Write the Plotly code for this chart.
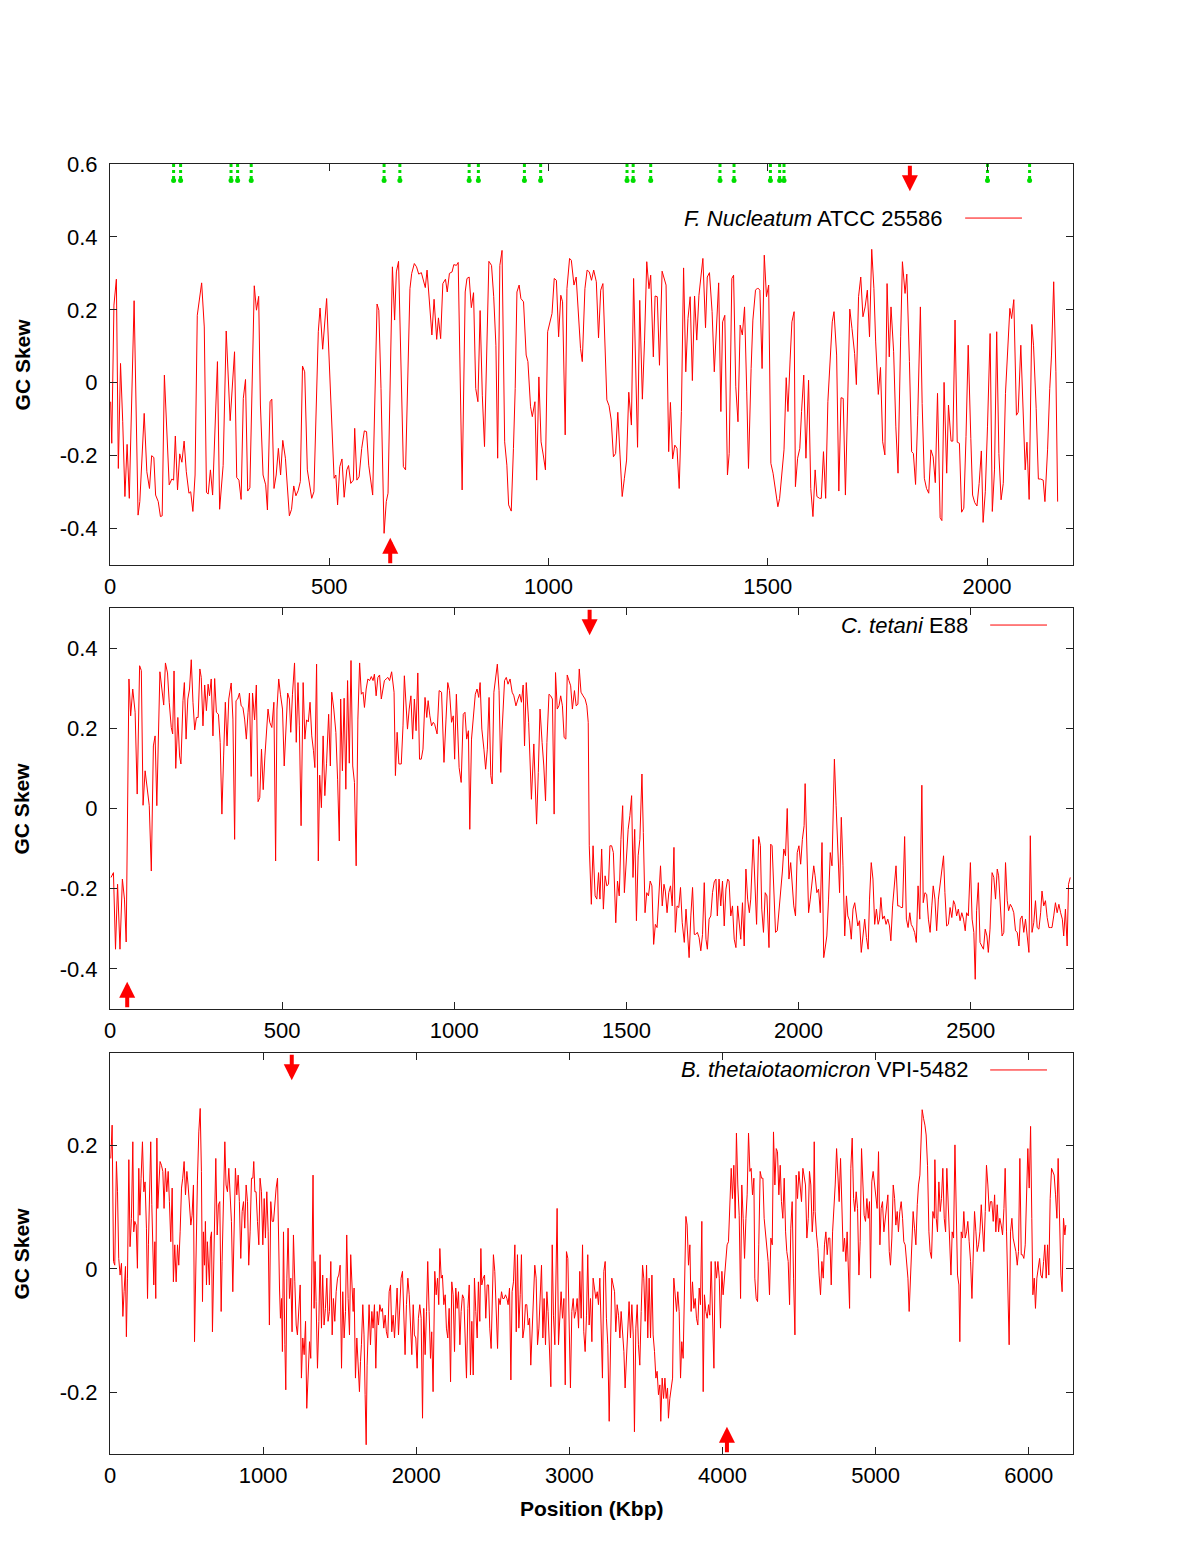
import plotly.graph_objects as go

# ---------------- F. nucleatum ATCC 25586 ----------------
fn_pos_a = [1.5,4,9,14.5,19,24,29,34,39,44,55,64,68,78,84,90,95,100,104,110,115,119,124,129,135,141,145,149,154,159,164,169,174,180,184,189,194,199,209,215,220,224,229,234,245,250,258,265,274,284,289,294,299,304,309,314,319,329,334,339,343,349,355,359,365,369,374,379,384,389,394,400,409,414,419,424,429,434,439,444,450,460,465,475,479,485,494,504,511,515,519,524,529,534,540,544,549,555]
fn_skew_a = [-0.052,-0.166,0.213,0.284,-0.235,0.053,-0.107,-0.312,-0.169,-0.317,0.225,-0.363,-0.326,-0.084,-0.244,-0.29,-0.20,-0.205,-0.308,-0.326,-0.367,-0.365,0.021,-0.107,-0.28,-0.264,-0.267,-0.146,-0.294,-0.195,-0.218,-0.16,-0.244,-0.303,-0.299,-0.353,-0.253,0.185,0.274,0.153,-0.301,-0.305,-0.239,-0.308,0.058,-0.347,-0.227,0.142,-0.104,0.085,-0.26,-0.267,-0.32,-0.043,0.009,-0.297,-0.288,0.266,0.199,0.237,-0.061,-0.253,-0.28,-0.349,-0.052,-0.045,-0.29,-0.253,-0.18,-0.253,-0.158,-0.207,-0.365,-0.347,-0.283,-0.31,-0.296,-0.271,0.046,0.03,-0.239,-0.317,-0.299,0.14,0.205,0.092,0.231,-0.061,-0.262,-0.253,-0.335,-0.23,-0.209,-0.314,-0.239,-0.227,-0.276,-0.267]
fn_pos_b = [558,563,568,574,580,585,590,599,604,609,613,618,625,630,634,639,644,649,653,658,663,669,674,679,684,688,694,699,704,710,714,719,723,729,734,739,745,749,754,759,765,769,774,780,784,790,794,803,810,814,819,824,829,834,839,844,849,854,859,864,870,875,880,884,889,894,900,905,909,915,920,924,928,933,937,943,949,953,959,963,969,973,978,983,988,993,998,1004,1008,1013,1018,1023,1028,1032,1038,1042,1048,1052,1058,1063,1067,1073,1077,1083,1088,1093,1098,1103]
fn_skew_b = [-0.125,-0.267,-0.258,-0.18,-0.132,-0.134,-0.226,-0.308,-0.052,0.216,0.199,-0.016,-0.413,-0.326,-0.303,-0.016,0.318,0.172,0.304,0.333,0.039,-0.23,-0.239,0.021,0.258,0.30,0.327,0.318,0.298,0.302,0.286,0.261,0.309,0.222,0.131,0.229,0.119,0.178,0.121,0.272,0.284,0.249,0.30,0.304,0.324,0.322,0.33,-0.294,0.249,0.286,0.29,0.206,0.247,-0.016,-0.052,0.198,-0.034,-0.175,0.076,0.333,0.322,0.236,0.103,-0.207,0.322,0.363,-0.162,-0.226,-0.335,-0.352,-0.18,-0.016,0.249,0.268,0.231,0.222,0.076,0.058,-0.066,-0.093,-0.052,-0.267,0.016,-0.162,-0.198,-0.239,0.14,0.167,0.19,0.286,0.281,0.126,0.24,0.222,-0.143,0.258,0.341,0.336,0.268,0.29,0.222,0.094,0.058,0.258,0.309,0.304,0.281,0.309]
fn_pos_c = [1109,1114,1119,1124,1133,1138,1143,1148,1153,1158,1163,1168,1173,1178,1183,1189,1194,1198,1203,1208,1214,1219,1224,1229,1233,1239,1243,1248,1253,1259,1263,1268,1274,1278,1283,1288,1293,1298,1303,1308,1313,1318,1323,1328,1333,1338,1343,1348,1352,1358,1362,1367,1373,1378,1383,1388,1393,1397,1402,1408,1412,1418,1422,1427,1432,1437,1442,1447,1452,1456,1462,1466,1472,1477,1482,1487,1492,1497,1502,1507,1512,1517,1523,1527,1532,1537,1542,1546,1551,1555,1560,1563,1568,1573,1577,1582,1587,1593,1598,1603,1608,1612,1618,1622,1627,1632,1637,1642,1647,1651]
fn_skew_c = [0.277,0.123,0.254,0.272,-0.047,-0.063,-0.102,-0.203,-0.194,-0.081,-0.198,-0.312,-0.262,-0.212,-0.026,-0.116,0.286,0.076,-0.177,0.226,-0.045,0.117,0.332,0.258,0.295,0.071,0.238,0.236,0.048,0.306,0.29,0.268,-0.189,-0.054,-0.209,-0.171,-0.18,-0.29,-0.079,0.315,0.03,0.176,0.236,0.006,0.238,0.117,0.24,0.309,0.341,0.151,0.29,0.302,0.195,0.03,0.149,0.274,-0.079,0.167,0.185,-0.253,-0.194,0.286,0.295,-0.011,-0.107,0.158,0.131,0.208,-0.025,-0.235,0.039,0.172,0.254,0.26,0.254,0.039,0.35,0.236,0.268,-0.221,-0.248,-0.29,-0.34,-0.317,-0.244,-0.184,0.014,-0.079,0.065,0.167,0.195,-0.285,-0.207,-0.18,-0.079,0.021,-0.207,0.007,-0.29,-0.367,-0.239,-0.312,-0.317,-0.317,-0.189,-0.317,-0.052,0.058,0.167,0.195]
fn_pos_d = [1657,1662,1667,1672,1677,1682,1687,1692,1698,1702,1707,1712,1717,1722,1727,1732,1737,1742,1746,1752,1757,1762,1767,1772,1777,1781,1787,1792,1797,1803,1807,1813,1817,1823,1828,1832,1837,1842,1848,1852,1857,1862,1867,1872,1877,1882,1887,1893,1897,1902,1908,1912,1918,1922,1927,1932,1937,1942,1947,1952,1957,1963,1967,1972,1977,1982,1987,1991,1996,2001,2007,2012,2017,2022,2027,2032,2037,2042,2047,2052,2056,2061,2067,2071,2077,2081,2087,2091,2096,2102,2106,2112,2117,2122,2128,2132,2138,2143,2147,2152,2157,2161]
fn_skew_d = [0.076,-0.297,-0.041,-0.043,-0.308,-0.061,0.202,0.149,0.08,-0.005,0.236,0.29,0.181,0.208,0.254,0.126,0.366,0.258,0.112,-0.032,0.042,-0.162,-0.198,0.272,0.071,0.208,0.085,-0.121,-0.248,0.126,0.332,0.245,0.298,0.058,-0.189,-0.194,-0.279,-0.089,0.208,-0.057,-0.262,-0.29,-0.303,-0.184,-0.203,-0.274,-0.029,-0.37,-0.378,0.001,-0.248,-0.061,-0.16,-0.16,0.172,-0.163,-0.166,-0.355,-0.344,-0.148,0.103,-0.153,-0.308,-0.329,-0.338,-0.276,-0.187,-0.383,-0.299,-0.121,0.135,-0.353,-0.239,0.14,-0.194,-0.321,-0.276,-0.029,0.099,0.204,0.176,0.228,-0.089,-0.081,0.103,-0.061,-0.239,-0.163,-0.32,0.16,0.103,-0.07,-0.264,-0.264,-0.267,-0.326,-0.184,-0.016,0.076,0.277,0.03,-0.326]
fn_markers = [145,161,276,291,322,625,661,819,840,945,982,1179,1193,1233,1391,1423,1506,1527,1537,2001,2097]
fn_ori, fn_ter = 639, 1824

# ---------------- C. tetani E88 ----------------
ct_pos_a = [3,10,16,22,29,36,42,47,55,60,66,73,79,86,91,96,102,108,114,120,126,131,136,145,150,156,161,167,172,178,182,186,191,197,202,206,212,216,221,226,231,236,241,246,251,256,261,265,270,275,280,285,289,294,299,304,309,315,320,325,330,335,340,345,352,357,362,366,371,376,381,386,391,396,401,405,410,414,420,425,430,435,440,445,450,454,459,464,470,476,481,485,490,495,501,506,511,516,521,525,530,536,541,546,550,555,561,566,571,576,581,586,591,595,600,605,609,614,619,624,629,635,640,644,650,656,661,666,670,675,680,685,690,695,700,705,710,715,720,725,730,735,739,744,749,754,759,764,768,773,778,783,788,793,797,802,807,812,818,825,829,834,839,846,851,855,860,864,869,874,879,884,889,894,899,904,909,915,920,924,929,934,939]
ct_skew_a = [-0.172,-0.16,-0.351,-0.189,-0.351,-0.176,-0.226,-0.333,0.323,0.231,0.298,0.24,0.036,0.356,0.344,0.008,0.094,0.057,0.007,-0.156,0.156,0.181,0.007,0.341,0.298,0.258,0.363,0.338,0.265,0.202,0.186,0.343,0.10,0.227,0.131,0.111,0.269,0.314,0.173,0.273,0.298,0.371,0.265,0.196,0.227,0.227,0.348,0.327,0.206,0.308,0.244,0.31,0.281,0.323,0.181,0.324,0.24,0.235,0.165,-0.014,0.131,0.265,0.156,0.273,0.313,0.223,-0.077,0.269,0.273,0.288,0.256,0.252,0.223,0.173,0.24,0.288,0.08,0.288,0.221,0.308,0.017,0.027,0.148,0.047,0.131,0.19,0.248,0.215,0.202,0.265,-0.131,0.248,0.323,0.285,0.248,0.106,0.206,0.288,0.273,0.19,0.285,0.363,0.165,0.314,0.206,-0.043,0.314,0.173,0.221,0.216,0.265,0.181,0.144,0.102,0.36,-0.131,0.083,0.002,0.181,0.032,0.113,0.235,0.106,0.29,0.248,0.19,0.073,-0.081,0.273,0.094,0.275,0.048,0.319,0.113,0.369,0.106,0.065,-0.143,0.223,0.363,0.285,0.29,0.252,0.298,0.323,0.319,0.329,0.319,0.335,0.281,0.327,0.333,0.273,0.294,0.319,0.323,0.327,0.319,0.341,0.29,0.082,0.19,0.111,0.111,0.206,0.331,0.24,0.198,0.248,0.281,0.173,0.273,0.194,0.338,0.123,0.123,0.148,0.277,0.227,0.269,0.231,0.206,0.215]
ct_pos_b = [943,950,956,963,970,976,981,986,992,997,1001,1006,1011,1014,1020,1026,1031,1036,1041,1045,1050,1055,1061,1066,1071,1075,1080,1086,1091,1096,1101,1106,1110,1115,1120,1125,1130,1135,1139,1146,1151,1156,1162,1168,1173,1179,1185,1190,1195,1200,1204,1209,1216,1224,1231,1239,1244,1249,1255,1260,1265,1269,1275,1280,1285,1290,1294,1299,1304,1309,1314,1319,1324,1328,1333,1338,1343,1349,1354,1359,1363,1368,1374,1380,1385,1389,1392,1398,1403,1409,1414,1419,1423,1428,1433,1438,1443,1448,1452,1457,1462,1469,1474,1479,1484,1489,1494,1499,1505,1510,1515,1519,1524,1529,1534,1539,1545,1549,1554,1559,1564,1569,1574,1579,1584,1589,1594,1599,1604,1609,1613,1618,1623,1628,1633,1638,1642,1647,1652,1657,1662,1668,1673,1677,1682,1687,1692,1697,1701,1706,1711,1716,1721,1726,1731,1735,1740,1745,1750,1755,1760,1764,1769,1774,1779,1784,1789,1794,1798,1803,1808,1813,1818,1823,1828,1832,1837,1842,1847,1852,1857,1861,1868]
ct_skew_b = [0.21,0.186,0.294,0.29,0.115,0.223,0.314,0.294,0.215,0.231,0.123,0.285,0.136,0.102,0.065,0.235,0.24,0.173,0.194,-0.052,0.173,0.231,0.285,0.298,0.277,0.314,0.198,0.148,0.098,0.148,0.277,0.082,0.061,0.29,0.323,0.36,0.294,0.09,0.198,0.319,0.327,0.31,0.323,0.29,0.281,0.256,0.273,0.285,0.265,0.308,0.156,0.314,0.215,0.023,0.161,-0.039,0.09,0.248,0.165,0.106,0.019,0.165,0.285,0.281,0.273,-0.014,0.339,0.248,0.256,0.281,0.256,0.177,0.173,0.333,0.319,0.306,0.248,0.294,0.256,0.26,0.348,0.29,0.281,0.273,0.256,0.215,-0.093,-0.239,-0.093,-0.218,-0.226,-0.16,-0.226,-0.101,-0.251,-0.168,-0.193,-0.189,-0.093,-0.093,-0.11,-0.285,-0.181,-0.218,-0.077,0.007,-0.21,-0.135,-0.052,-0.018,0.032,-0.172,-0.052,-0.28,-0.118,-0.077,0.086,-0.06,-0.26,-0.21,-0.218,-0.181,-0.193,-0.339,-0.289,-0.297,-0.226,-0.143,-0.243,-0.189,-0.206,-0.26,-0.21,-0.193,-0.243,-0.097,-0.309,-0.243,-0.247,-0.197,-0.285,-0.334,-0.251,-0.314,-0.372,-0.268,-0.197,-0.314,-0.314,-0.309,-0.322,-0.355,-0.314,-0.185,-0.326,-0.351,-0.276,-0.268,-0.21,-0.183,-0.176,-0.268,-0.176,-0.243,-0.181,-0.293,-0.201,-0.176,-0.181,-0.268,-0.243,-0.326,-0.347,-0.243,-0.285,-0.326,-0.235,-0.343,-0.151,-0.226,-0.26,-0.226,-0.077]
ct_pos_c = [1878,1884,1889,1893,1898,1903,1908,1914,1919,1923,1928,1933,1938,1943,1948,1953,1957,1962,1967,1972,1977,1982,1986,1991,1996,2001,2006,2011,2016,2019,2024,2029,2034,2039,2044,2048,2053,2058,2063,2068,2073,2078,2082,2087,2092,2097,2104,2109,2113,2119,2124,2129,2134,2139,2143,2148,2153,2158,2163,2168,2172,2177,2182,2187,2192,2197,2202,2206,2211,2216,2221,2226,2231,2235,2239,2244,2249,2254,2259,2264,2268,2273,2278,2283,2288,2293,2297,2302,2308,2313,2318,2323,2327,2332,2337,2342,2347,2352,2358,2362,2367,2372,2377,2382,2387,2391,2396,2401,2406,2411,2416,2421,2425,2430,2435,2440,2445,2450,2454,2459,2464,2469,2474,2479,2484,2488,2493,2499,2504,2509,2513,2517,2522,2527,2532,2537,2542,2547,2551,2556,2562,2567,2572,2577,2581,2586,2591,2596,2601,2606,2610,2615,2620,2625,2630,2635,2640,2644,2649,2654,2659,2664,2669,2673,2678,2683,2688,2693,2698,2703,2707,2712,2717,2722,2727,2732,2736,2741,2746,2751,2756,2761,2766,2770,2775,2780,2784,2789]
ct_skew_c = [-0.289,-0.07,-0.093,-0.251,-0.309,-0.21,-0.218,-0.347,-0.089,-0.093,-0.21,-0.309,-0.305,-0.26,-0.218,-0.156,-0.101,-0.118,0.0,-0.176,-0.135,-0.193,-0.243,-0.268,-0.11,-0.093,-0.139,-0.077,-0.043,0.062,-0.101,-0.26,-0.226,-0.189,-0.143,-0.168,-0.21,-0.201,-0.26,-0.085,-0.372,-0.343,-0.318,-0.226,-0.11,-0.143,0.123,0.007,-0.077,-0.21,-0.022,-0.143,-0.318,-0.218,-0.268,-0.28,-0.326,-0.251,-0.235,-0.268,-0.293,-0.28,-0.359,-0.318,-0.276,-0.322,-0.351,-0.226,-0.135,-0.176,-0.289,-0.251,-0.289,-0.276,-0.222,-0.276,-0.268,-0.289,-0.276,-0.293,-0.33,-0.243,-0.193,-0.143,-0.243,-0.243,-0.247,-0.247,-0.07,-0.276,-0.297,-0.26,-0.289,-0.297,-0.309,-0.334,-0.193,-0.276,0.058,-0.235,-0.21,-0.214,-0.276,-0.309,-0.243,-0.193,-0.226,-0.305,-0.226,-0.185,-0.143,-0.118,-0.21,-0.293,-0.289,-0.247,-0.272,-0.23,-0.239,-0.268,-0.251,-0.28,-0.26,-0.276,-0.305,-0.26,-0.268,-0.135,-0.276,-0.309,-0.426,-0.255,-0.185,-0.334,-0.343,-0.351,-0.301,-0.318,-0.359,-0.301,-0.16,-0.172,-0.226,-0.151,-0.168,-0.26,-0.318,-0.309,-0.135,-0.23,-0.255,-0.239,-0.247,-0.26,-0.305,-0.309,-0.343,-0.276,-0.268,-0.309,-0.276,-0.318,-0.359,-0.068,-0.309,-0.285,-0.23,-0.297,-0.301,-0.26,-0.206,-0.243,-0.23,-0.272,-0.297,-0.297,-0.297,-0.268,-0.235,-0.26,-0.239,-0.26,-0.276,-0.318,-0.251,-0.343,-0.189,-0.172]
ct_ori, ct_ter = 50, 1393

# ---------------- B. thetaiotaomicron VPI-5482 ----------------
bt_pos_a = [5,14,23,31,42,49,57,66,75,84,92,101,107,114,123,131,140,149,155,162,171,179,188,195,203,212,221,229,238,245,251,258,266,273,279,286,293,299,306,312,319,327,336,345,353,362,371,380,388,397,406,414,423,432,441,449,458,467,475,484,493,502,510,519,528,536,545,552,558,565,571,580,589,597,604,610,617,623,630,636,643,649,656,663,669,676,682,691,700,708,717,726,732,741,750,758,767,776,784,793,802,811,819,828,837,845,854,863,872,880,889,898,906,915,924,933,939,946,954,963,972,980,989,998,1007,1015,1024,1033,1041,1050,1059,1068,1076,1085,1094,1100,1107,1113,1120,1126,1133,1142,1148,1155,1163,1172,1181,1189,1198,1207,1216,1224,1233,1242,1250,1259,1268,1277,1285,1294,1303,1311,1320,1326,1333,1339,1346,1355,1364,1372,1381,1389,1398,1407,1416,1424,1433,1442,1451,1459,1468,1477,1486,1494,1503,1512,1520,1529,1538,1546,1555,1564,1572,1581,1588,1594,1603,1612,1620,1629,1636,1642,1651,1659,1666,1673,1679,1686,1692,1701,1710,1718,1727,1736,1745,1753,1762,1771,1779,1788,1797,1805,1814,1823,1832,1840,1849,1858,1866,1875,1884,1893,1901,1910,1919,1927,1936,1945,1954,1962,1971,1980,1988,1997,2006,2014,2023,2032,2041,2049,2058,2067,2075,2084,2093,2101,2110]
bt_skew_a = [0.179,0.233,0.012,0.006,0.174,0.125,0.017,-0.01,0.009,-0.077,-0.037,0.004,-0.11,-0.015,0.177,0.036,0.082,0.206,0.06,0.077,0.071,0.001,0.163,0.087,0.147,0.206,0.125,0.141,0.066,-0.048,0.039,0.136,0.206,0.104,0.017,-0.026,0.044,-0.048,0.212,0.098,0.136,0.174,0.168,0.158,0.098,0.163,0.125,0.158,0.109,0.044,0.131,-0.021,0.039,-0.021,0.039,0.006,0.06,0.131,0.147,0.174,0.12,0.158,0.136,0.104,0.071,0.087,0.136,-0.118,-0.015,0.104,0.144,0.222,0.26,0.158,-0.053,0.06,0.006,0.077,-0.026,0.044,0.006,-0.026,0.05,0.06,-0.102,-0.01,0.06,0.179,0.055,0.104,0.109,-0.069,0.012,0.109,0.206,0.136,0.125,0.163,0.125,0.077,-0.037,0.109,0.163,0.12,0.152,0.109,0.017,0.093,0.109,0.066,0.136,0.109,0.006,0.06,0.147,0.147,0.174,0.125,0.125,0.077,0.039,0.147,0.125,0.039,0.114,0.05,0.125,0.06,-0.091,0.109,0.077,0.077,0.104,0.131,0.147,0.023,-0.031,-0.08,-0.048,-0.134,0.06,-0.123,-0.196,-0.015,0.066,-0.048,-0.015,-0.102,0.055,-0.021,-0.091,-0.107,-0.075,-0.026,-0.177,-0.112,-0.139,-0.085,-0.226,-0.172,-0.118,-0.145,0.012,0.152,-0.064,0.012,-0.053,-0.161,-0.085,0.023,-0.096,-0.01,-0.091,-0.064,-0.015,-0.085,-0.069,0.012,-0.107,-0.048,-0.085,-0.037,-0.015,-0.01,0.006,-0.161,-0.037,-0.112,-0.069,0.055,-0.048,-0.107,0.023,-0.026,-0.069,-0.031,-0.177,-0.112,-0.145,-0.199,-0.15,-0.123,-0.058,-0.107,-0.204,-0.285,-0.156,-0.091,-0.058,-0.123,-0.069,-0.096,-0.058,-0.161,-0.069,-0.091,-0.058,-0.069,-0.064,-0.096,-0.075,-0.102,-0.112,-0.037,-0.026,-0.102,-0.075,-0.112,-0.075,-0.031,-0.107,-0.058,-0.015,-0.004,-0.085,-0.139,-0.058,-0.015,-0.042,-0.091,-0.139,-0.058,-0.107,-0.112,-0.161,-0.08,-0.058,-0.08,-0.242,-0.064,-0.139,-0.069,0.012,-0.069,-0.145,-0.102,-0.199]
bt_pos_b = [2121,2130,2139,2147,2154,2163,2171,2180,2189,2197,2206,2215,2224,2232,2241,2250,2258,2267,2276,2285,2293,2302,2311,2319,2328,2337,2346,2354,2363,2372,2380,2389,2398,2406,2415,2422,2428,2437,2446,2454,2463,2472,2480,2489,2498,2504,2513,2522,2531,2539,2548,2557,2565,2574,2583,2592,2600,2609,2618,2626,2635,2644,2653,2661,2670,2679,2687,2696,2705,2713,2722,2731,2740,2748,2757,2766,2774,2783,2792,2801,2809,2818,2827,2835,2844,2853,2861,2870,2879,2888,2896,2905,2912,2920,2929,2938,2946,2955,2964,2973,2981,2990,2999,3007,3016,3025,3033,3042,3051,3060,3068,3077,3086,3094,3103,3112,3120,3129,3138,3147,3155,3164,3173,3182,3190,3199,3208,3216,3225,3234,3242,3251,3260,3269,3277,3286,3295,3303,3312,3321,3330,3338,3347,3356,3364,3373,3382,3390,3399,3408,3417,3425,3434,3443,3451,3460,3469,3478,3486,3495,3504,3512,3521,3530,3539,3547,3556,3565,3573,3582,3591,3597,3606,3615,3624,3632,3641,3647,3656,3665,3674,3682,3691,3700,3708,3717,3726,3734,3743,3752,3761,3769,3778,3787,3795,3804,3813,3822,3830,3839,3848,3856,3865,3874,3882,3891,3900,3909,3917,3926,3935,3944,3952,3961,3970,3979,3987,3996,4004,4013,4022,4030,4039,4048,4057,4065,4074,4083,4091,4100,4109,4118,4126,4135,4144,4153,4161,4170,4179,4187,4196,4205]
bt_skew_b = [-0.004,-0.042,-0.015,-0.058,0.033,-0.015,-0.01,-0.058,-0.042,-0.096,-0.112,-0.064,-0.183,-0.021,-0.042,-0.134,-0.031,-0.064,-0.037,-0.123,-0.069,-0.042,-0.048,-0.112,-0.177,-0.064,-0.026,-0.172,-0.085,-0.172,-0.015,-0.069,-0.112,-0.021,-0.085,0.033,-0.026,-0.015,-0.01,-0.08,-0.026,-0.026,-0.096,-0.129,-0.015,0.023,-0.004,-0.069,-0.129,-0.048,-0.058,-0.037,-0.048,-0.048,-0.042,-0.048,-0.058,-0.031,-0.18,-0.037,-0.021,0.039,-0.102,0.023,-0.096,-0.042,0.023,-0.112,-0.096,-0.058,-0.058,-0.091,-0.08,-0.156,-0.102,-0.064,0.006,-0.015,-0.123,-0.096,-0.058,0.006,-0.112,-0.048,-0.123,-0.037,-0.069,-0.139,-0.191,0.039,-0.075,-0.123,0.012,0.098,-0.123,-0.075,-0.037,-0.08,-0.048,-0.188,0.028,0.017,-0.08,-0.193,-0.069,-0.048,-0.08,-0.069,-0.048,-0.096,-0.004,-0.08,0.039,-0.102,-0.134,-0.075,0.023,-0.091,-0.048,-0.118,-0.015,-0.037,-0.048,-0.037,-0.058,-0.015,-0.107,-0.177,-0.004,0.012,-0.08,-0.123,-0.247,-0.123,-0.015,-0.026,-0.037,-0.102,-0.058,-0.075,-0.112,-0.069,-0.096,-0.134,-0.193,-0.145,-0.085,-0.053,-0.112,-0.058,-0.107,-0.264,-0.096,-0.058,-0.123,-0.156,-0.069,0.006,-0.015,-0.085,0.006,-0.112,-0.015,-0.112,-0.01,-0.107,-0.134,-0.177,-0.166,-0.204,-0.188,-0.247,-0.177,-0.21,-0.177,-0.21,-0.193,-0.242,-0.21,-0.188,-0.177,-0.015,-0.037,-0.069,-0.037,-0.069,-0.177,-0.118,-0.145,-0.015,0.085,0.071,0.006,0.039,-0.069,-0.021,-0.064,-0.048,-0.08,-0.091,-0.031,-0.058,0.077,-0.199,-0.042,-0.069,-0.08,-0.058,-0.075,0.012,-0.08,-0.161,0.012,-0.015,0.012,-0.015,-0.096,-0.004,-0.042,-0.015,0.012,0.039,0.044,0.098,0.163,0.114,0.168,0.082,0.22,0.136,0.087,-0.048,0.136,0.082,0.017,0.082,0.12,0.22,0.158,0.163,0.12,0.147]
bt_pos_c = [4211,4220,4229,4237,4246,4255,4264,4272,4281,4290,4298,4307,4316,4325,4333,4342,4351,4359,4368,4377,4385,4394,4403,4412,4420,4429,4438,4446,4455,4464,4473,4481,4490,4499,4507,4516,4525,4533,4542,4551,4560,4568,4577,4586,4594,4599,4605,4614,4623,4631,4640,4649,4658,4666,4675,4684,4692,4701,4710,4719,4727,4736,4745,4753,4762,4771,4780,4788,4797,4806,4814,4823,4830,4838,4847,4856,4864,4873,4882,4891,4899,4908,4917,4925,4934,4943,4952,4960,4967,4975,4984,4993,5001,5010,5019,5028,5036,5045,5054,5063,5071,5080,5089,5097,5106,5115,5124,5132,5141,5149,5158,5167,5176,5184,5193,5202,5211,5219,5228,5237,5245,5254,5263,5272,5280,5289,5298,5304,5313,5322,5330,5339,5348,5356,5365,5374,5383,5387,5396,5404,5413,5422,5430,5439,5448,5457,5465,5474,5483,5492,5500,5509,5518,5526,5535,5544,5550,5559,5568,5576,5585,5594,5602,5611,5620,5629,5637,5646,5655,5663,5672,5681,5690,5698,5707,5716,5724,5733,5742,5750,5759,5768,5777,5785,5794,5803,5811,5820,5829,5838,5846,5855,5864,5872,5881,5890,5898,5907,5916,5925,5933,5942,5951,5959,5968,5977,5986,5994,6003,6012,6020,6027,6036,6044,6053,6062,6071,6079,6088,6097,6105,6114,6123,6131,6140,6149,6157,6166,6175,6184,6192,6201,6210,6218,6227,6236,6242]
bt_skew_c = [-0.015,-0.048,-0.053,0.039,0.158,0.147,0.147,0.082,0.06,0.028,0.012,-0.042,0.05,0.039,0.222,0.136,0.195,0.19,0.12,0.168,0.109,0.082,0.147,0.06,0.028,0.012,-0.058,0.066,0.109,-0.015,-0.107,0.152,0.114,0.158,0.136,0.109,0.163,0.147,0.136,0.05,0.082,0.158,0.136,0.06,0.093,0.206,0.093,0.055,0.033,-0.01,-0.042,0.012,-0.015,0.039,0.06,0.023,0.05,0.05,-0.026,0.06,0.093,0.136,0.195,0.147,0.109,0.179,0.093,0.028,0.05,0.012,0.06,-0.01,-0.064,0.163,0.212,0.114,0.093,0.125,0.098,-0.01,0.044,0.195,0.12,0.087,0.077,0.114,0.082,0.109,-0.015,0.141,0.158,0.136,0.114,0.098,0.19,0.039,0.098,0.109,0.06,0.082,0.109,0.12,0.028,0.006,0.05,0.136,0.114,0.071,0.093,0.06,0.093,0.109,0.082,0.044,0.039,0.017,-0.015,-0.069,-0.015,0.039,0.093,0.066,0.039,0.104,0.136,0.152,0.228,0.258,0.244,0.233,0.217,0.168,0.06,0.028,0.017,0.093,0.082,0.177,0.082,0.06,0.141,0.093,0.114,0.163,0.082,0.06,0.163,0.114,0.055,-0.01,0.06,0.05,0.201,0.093,-0.01,-0.026,-0.118,0.06,0.05,0.093,0.05,0.06,0.077,0.044,0.012,-0.048,0.028,0.093,0.06,0.028,0.039,0.06,0.104,0.06,0.028,0.093,0.168,0.136,0.093,0.109,0.109,0.077,0.12,0.06,0.104,0.06,0.082,0.071,0.055,0.098,0.163,0.06,-0.026,-0.123,0.06,0.082,0.05,0.039,0.028,0.006,0.028,0.179,0.023,0.023,0.017,0.039,0.109,0.195,0.131,0.231,0.082,-0.042,-0.015,-0.064,-0.015,0.006,0.017,-0.01,-0.015,0.012,0.039,-0.015,0.039,-0.01,0.114,0.163,0.158,0.152,0.12,0.082,0.179,0.082,-0.01,-0.037,0.082,0.055,0.071]
bt_ori, bt_ter = 4029, 1187

# ---------------- axes / labels ----------------
fn_xticks = [0, 500, 1000, 1500, 2000]
ct_xticks = [0, 500, 1000, 1500, 2000, 2500]
bt_xticks = [0, 1000, 2000, 3000, 4000, 5000, 6000]
fn_yticks = [-0.4, -0.2, 0, 0.2, 0.4, 0.6]
ct_yticks = [-0.4, -0.2, 0, 0.2, 0.4]
bt_yticks = [-0.2, 0, 0.2]
fn_xmax, ct_xmax, bt_xmax = 2196, 2797, 6289
labels = ["<i>F. Nucleatum</i> ATCC 25586", "<i>C. tetani</i> E88",
          "<i>B. thetaiotaomicron</i> VPI-5482"]

def fmt(v):
    if v == 0:
        return "0"
    return "%g" % v

def check(a, b):
    assert len(a) == len(b), (len(a), len(b))

for a, b in [(fn_pos_a, fn_skew_a), (fn_pos_b, fn_skew_b), (fn_pos_c, fn_skew_c), (fn_pos_d, fn_skew_d),
             (ct_pos_a, ct_skew_a), (ct_pos_b, ct_skew_b), (ct_pos_c, ct_skew_c),
             (bt_pos_a, bt_skew_a), (bt_pos_b, bt_skew_b), (bt_pos_c, bt_skew_c)]:
    check(a, b)

fn_x = fn_pos_a + fn_pos_b + fn_pos_c + fn_pos_d
fn_y = fn_skew_a + fn_skew_b + fn_skew_c + fn_skew_d
ct_x = ct_pos_a + ct_pos_b + ct_pos_c
ct_y = ct_skew_a + ct_skew_b + ct_skew_c
bt_x = bt_pos_a + bt_pos_b + bt_pos_c
bt_y = bt_skew_a + bt_skew_b + bt_skew_c

RED = "#ff0000"
GREEN = "#00dd00"
FONT = "Liberation Sans, Arial, sans-serif"

fig = go.Figure()
fig.add_trace(go.Scatter(x=fn_x, y=fn_y, mode="lines", line=dict(color=RED, width=1),
                         xaxis="x", yaxis="y", showlegend=False, hoverinfo="skip"))
fig.add_trace(go.Scatter(x=ct_x, y=ct_y, mode="lines", line=dict(color=RED, width=1),
                         xaxis="x2", yaxis="y2", showlegend=False, hoverinfo="skip"))
fig.add_trace(go.Scatter(x=bt_x, y=bt_y, mode="lines", line=dict(color=RED, width=1),
                         xaxis="x3", yaxis="y3", showlegend=False, hoverinfo="skip"))

# green dotted marker lines (top of panel 1)
gx, gy = [], []
for m in fn_markers:
    gx += [m, m, None]
    gy += [0.6, 0.555, None]
fig.add_trace(go.Scatter(x=gx, y=gy, mode="lines", line=dict(color=GREEN, width=3, dash="dot"),
                         xaxis="x", yaxis="y", showlegend=False, hoverinfo="skip"))
fig.add_trace(go.Scatter(x=fn_markers, y=[0.555] * len(fn_markers), mode="markers",
                         marker=dict(color=GREEN, size=5), xaxis="x", yaxis="y",
                         showlegend=False, hoverinfo="skip"))

doms = [[0.6891, 1.0], [0.3450, 0.6558], [0.0, 0.3109]]
xr = [fn_xmax, ct_xmax, bt_xmax]
xt = [fn_xticks, ct_xticks, bt_xticks]
yt = [fn_yticks, ct_yticks, bt_yticks]
yr = [[-0.5, 0.6], [-0.5, 0.5], [-0.3, 0.35]]

axcommon = dict(showline=True, linecolor="#222", linewidth=1, mirror="ticks", ticks="inside",
                ticklen=7, tickcolor="#222", showgrid=False, zeroline=False,
                tickfont=dict(family=FONT, size=22, color="black"))
layout = dict(width=1200, height=1553, plot_bgcolor="white", paper_bgcolor="white",
              margin=dict(l=102, r=135, t=156, b=107), showlegend=False,
              font=dict(family=FONT, size=22, color="black"))
for i in range(3):
    sx = "" if i == 0 else str(i + 1)
    layout["xaxis" + sx] = dict(axcommon, domain=[0, 1], anchor="y" + sx, range=[0, xr[i]],
                                tickvals=xt[i], ticktext=[str(v) for v in xt[i]],
                                ticklabelstandoff=2)
    layout["yaxis" + sx] = dict(axcommon, domain=doms[i], anchor="x" + sx, range=yr[i],
                                tickvals=yt[i], ticktext=[fmt(v) for v in yt[i]],
                                ticklabelstandoff=7)
fig.update_layout(**layout)

ann = []
# y titles
for i, yc in enumerate([0.8446, 0.5004, 0.1554]):
    ann.append(dict(text="<b>GC Skew</b>", x=-0.0914, y=yc, xref="paper", yref="paper",
                    textangle=-90, showarrow=False, font=dict(family=FONT, size=21),
                    xanchor="center", yanchor="middle"))
ann.append(dict(text="<b>Position (Kbp)</b>", x=0.4995, y=-0.0419, xref="paper", yref="paper",
                showarrow=False, font=dict(family=FONT, size=21), xanchor="center", yanchor="middle"))

# legend texts and samples
leg = [(0.866, 0.9581, 0.888, 0.947), (0.893, 0.6426, 0.914, 0.973), (0.893, 0.2977, 0.914, 0.973)]
for (tx, ty, l0, l1), lab in zip(leg, labels):
    ann.append(dict(text=lab, x=tx, y=ty, xref="paper", yref="paper", showarrow=False,
                    xanchor="right", yanchor="middle", font=dict(family=FONT, size=22)))
    fig.add_shape(type="line", xref="paper", yref="paper", x0=l0, x1=l1, y0=ty, y1=ty,
                  line=dict(color=RED, width=1))

# origin / terminus arrows
arrows = [("x", "y", fn_ori, "up"), ("x", "y", fn_ter, "down"),
          ("x2", "y2", ct_ori, "up"), ("x2", "y2", ct_ter, "down"),
          ("x3", "y3", bt_ori, "up"), ("x3", "y3", bt_ter, "down")]
for xa, ya, xv, d in arrows:
    if d == "up":
        ann.append(dict(x=xv, y=0.068, xref=xa, yref=ya + " domain", ax=0, ay=27,
                        showarrow=True, arrowhead=2, arrowsize=0.8, arrowwidth=4,
                        arrowcolor=RED, text="", standoff=0, startstandoff=0))
    else:
        ann.append(dict(x=xv, y=0.932, xref=xa, yref=ya + " domain", ax=0, ay=-27,
                        showarrow=True, arrowhead=2, arrowsize=0.8, arrowwidth=4,
                        arrowcolor=RED, text="", standoff=0, startstandoff=0))
fig.update_layout(annotations=ann)

fig.write_html("out.html", config={"displayModeBar": False})
